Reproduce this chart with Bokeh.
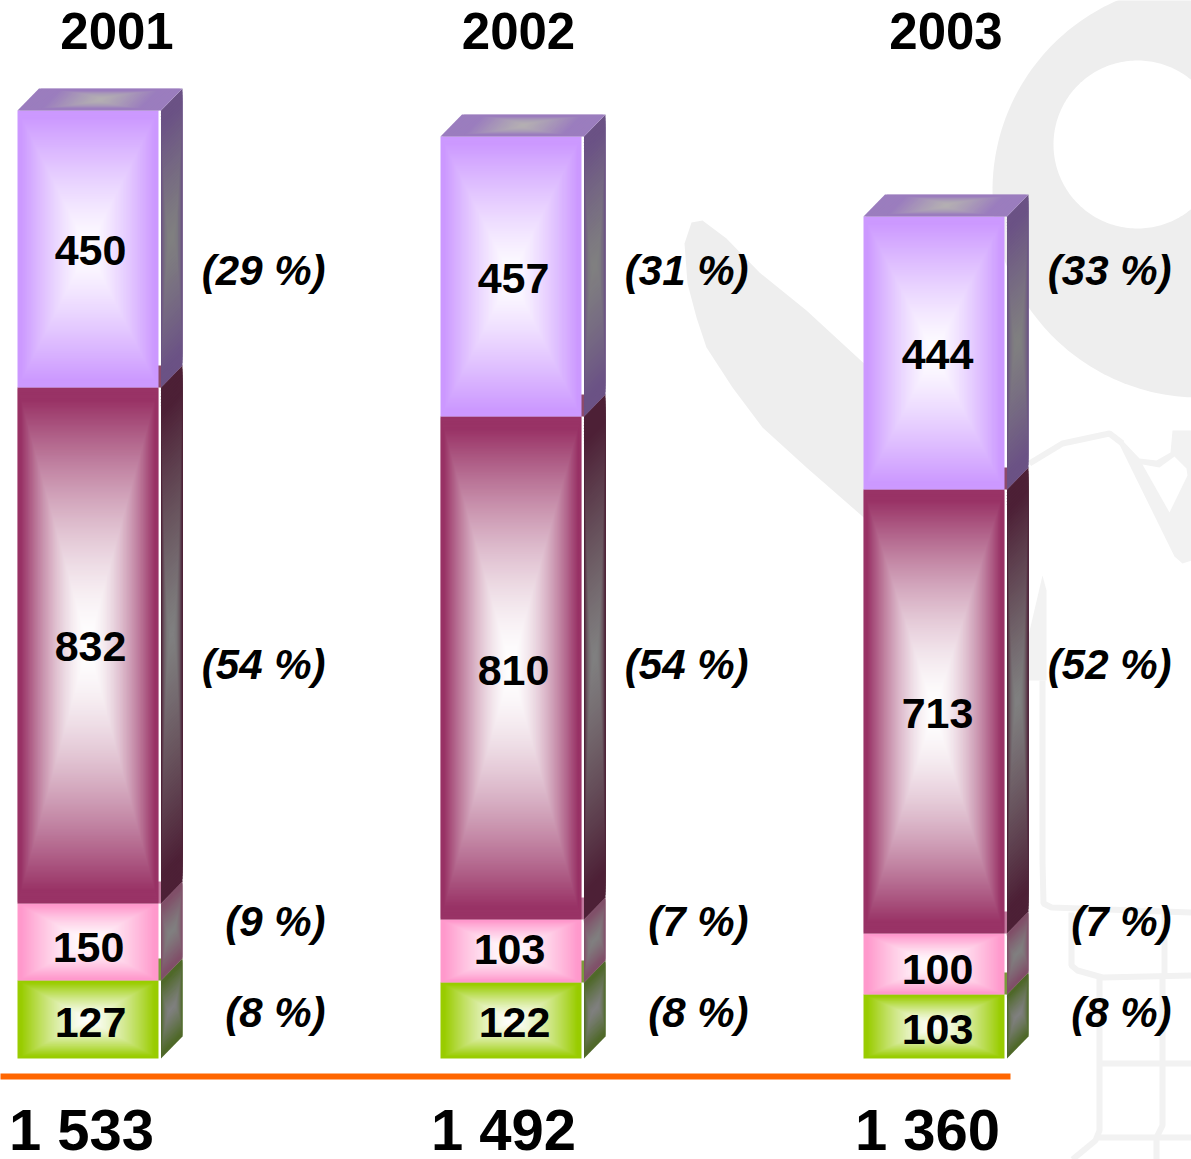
import numpy as np
from bokeh.plotting import figure
from bokeh.models import Range1d
from bokeh.core.properties import value
from bokeh.embed import file_html
from bokeh.resources import INLINE

# ---- data (stack order: bottom to top) ----
years = ["2001", "2002", "2003"]
totals = ["1 533", "1 492", "1 360"]
labels_2001 = ["127", "150", "832", "450"]
labels_2002 = ["122", "103", "810", "457"]
labels_2003 = ["103", "100", "713", "444"]
# bar lengths as they are drawn in the picture
drawn_2001 = [126.1, 124.5, 834.3, 447.9]
drawn_2002 = [122.9, 101.9, 813.3, 452.7]
drawn_2003 = [103.5, 98.6, 717.9, 441.4]
pct_2001 = ["(8 %)", "(9 %)", "(54 %)", "(29 %)"]
pct_2002 = ["(8 %)", "(7 %)", "(54 %)", "(31 %)"]
pct_2003 = ["(8 %)", "(7 %)", "(52 %)", "(33 %)"]

front_colors = ["#99CC00", "#FF99CC", "#993366", "#CC99FF"]
front_gamma = [1.4, 1.4, 1.6, 1.25]
side_colors = ["#50692A", "#805069", "#4D2036", "#6B5285"]
strip_colors = ["#7A9A3A", "#C07A9E", "#8C4A6A", "#9B7DBE"]

# ---- layout ----
W, H = 1191, 1159
BASE = 1058
S = 0.6185  # px per unit
bar_x = [18, 441, 864]
FRONT_W, GAP, SIDE_W, DEPTH = 141, 2.5, 21.5, 22
label_x = [[91, 89, 91, 91], [515, 510, 514, 514], [938, 938, 938, 938]]
label_mid = [[1022, 947, 646, 250], [1022, 949, 670, 278], [1029, 969, 713, 354]]
pct_right = [326, 749, 1172]
pct_mid = [1012, 921, 664, 270]
year_x = [117.5, 519, 946.5]
total_x = [82, 504, 928]

p = figure(width=W, height=H, output_backend="svg", toolbar_location=None,
           x_range=Range1d(1, W + 1), y_range=Range1d((BASE - H) / S, BASE / S),
           min_border=0, outline_line_color=None, background_fill_color="white",
           border_fill_color="white", x_axis_location=None, y_axis_location=None)
p.grid.visible = False
p.extra_y_ranges = {"px": Range1d(H, 0)}

# ---- watermark ----
GREY = "#EEEEEE"
GREY2 = "#F2F2F2"
ang = np.linspace(0, 2 * np.pi, 240)
p.patch(1200 + 207 * np.cos(ang), 190 + 207 * np.sin(ang), y_range_name="px",
        fill_color=GREY, line_color=None)
p.patch(1138 + 84 * np.cos(ang), 144 + 84 * np.sin(ang), y_range_name="px",
        fill_color="white", line_color=None)
p.patch([703, 727, 760, 807, 870, 870, 807, 763, 733, 707, 697, 688, 685, 692],
        [220, 238, 272, 310, 368, 522, 467, 427, 387, 347, 317, 283, 243, 222],
        y_range_name="px", fill_color=GREY, line_color=None)
p.patch([1115, 1175, 1183, 1192, 1192, 1173, 1171, 1157, 1140, 1123],
        [434, 556, 563, 560, 430, 430, 452, 460, 458, 440],
        y_range_name="px", fill_color=GREY2, line_color=None)
p.patch([1143, 1170, 1188, 1187, 1175, 1160],
        [464, 512, 475, 468, 456, 467],
        y_range_name="px", fill_color="white", line_color=None)
p.patch([1043, 1047, 1047, 1029, 1029], [575, 590, 680, 680, 635],
        y_range_name="px", fill_color=GREY2, line_color=None)
wm_x = [[1030, 1063, 1110, 1123],
        [1043, 1043, 1044, 1052, 1192],
        [1072, 1072, 1078, 1103, 1192],
        [1165, 1165],
        [1100, 1100, 1096, 1073],
        [1163, 1163, 1157, 1157],
        [1100, 1192], [1096, 1192]]
wm_y = [[463, 443, 433, 443],
        [680, 860, 903, 907, 912],
        [912, 965, 970, 977, 975],
        [912, 975],
        [977, 1130, 1140, 1159],
        [975, 1125, 1137, 1159],
        [1063, 1063], [1137, 1137]]
p.multi_line(wm_x, wm_y, y_range_name="px", line_color=GREY2, line_width=6)


def mix(c_edge, c_mid, t):
    return "#%02x%02x%02x" % tuple(
        int(round(m + (e - m) * t)) for e, m in zip(c_edge, c_mid))


def rgb(h):
    return tuple(int(h[i:i + 2], 16) for i in (1, 3, 5))


for bi, (drawn, labels) in enumerate(zip([drawn_2001, drawn_2002, drawn_2003],
                                         [labels_2001, labels_2002, labels_2003])):
    x0 = bar_x[bi]
    x1 = x0 + FRONT_W
    sx0 = x1 + GAP
    sx1 = sx0 + SIDE_W
    dv = DEPTH / S
    tops = np.cumsum(drawn)
    bots = tops - np.array(drawn)
    # thin faces of the lower blocks, seen through the white gap
    for si in range(3):
        p.patch([x0, x1 + GAP, sx1, x0 + 23], [tops[si], tops[si], tops[si] + dv, tops[si] + dv],
                fill_color=strip_colors[si], line_color=None)
    for si in range(4):
        yb, yt = bots[si], tops[si]
        e = rgb(front_colors[si])
        g = front_gamma[si]
        cx, cy = (x0 + x1) / 2, (yb + yt) / 2
        hw, hh = (x1 - x0) / 2, (yt - yb) / 2
        # front, nested rectangles
        n = max(70, int(hh * S / 1.2))
        fr = np.arange(n) / n
        p.quad(left=cx - hw * (1 - fr), right=cx + hw * (1 - fr),
               bottom=cy - hh * (1 - fr), top=cy + hh * (1 - fr),
               fill_color=[mix(e, (255, 255, 255), min((1 - f) / 0.95, 1.0) ** g) for f in fr],
               line_color=None)
        # side, nested parallelograms
        n2 = max(30, int(hh * S / 3))
        e2 = rgb(side_colors[si])
        scx, shw = (sx0 + sx1) / 2, (sx1 - sx0) / 2
        xs, ys, cols = [], [], []
        for f in np.arange(n2) / n2:
            k = 1 - f
            ku = k ** 0.4
            us = np.array([-1, 1, 1, -1]) * ku
            vs = np.array([-1, -1, 1, 1]) * k
            xs.append(list(scx + us * shw))
            ys.append(list(cy + dv / 2 + vs * hh + us * dv / 2))
            cols.append(mix(e2, (128, 128, 128), min(k / 0.9, 1) ** 1.2))
        p.patches(xs, ys, fill_color=cols, line_color=None)
    # top of the whole stack
    ytop = tops[3]
    tcx = (x0 + sx1) / 2
    thw = (x1 + GAP - x0) / 2
    xs, ys, cols = [], [], []
    for f in np.arange(30) / 30:
        k = 1 - f
        us = np.array([-1, 1, 1, -1]) * k
        vs = np.array([-1, -1, 1, 1]) * k ** 0.6
        xs.append(list(tcx + us * thw + vs * SIDE_W / 2))
        ys.append(list(ytop + dv / 2 + vs * dv / 2))
        cols.append(mix((155, 125, 190), (180, 176, 178), min(k / 0.7, 1) ** 1.2))
    p.patches(xs, ys, fill_color=cols, line_color=None)
    # value labels
    p.text(x=label_x[bi], y=label_mid[bi], text=labels, y_range_name="px",
           text_font=value("Liberation Sans"), text_font_style="bold",
           text_font_size="43px", text_align="center", text_baseline="middle",
           text_color="black")

# percentages
for bi, pct in enumerate([pct_2001, pct_2002, pct_2003]):
    p.text(x=[pct_right[bi]] * 4, y=pct_mid, text=pct, y_range_name="px",
           text_font=value("Liberation Sans"), text_font_style="bold italic",
           text_font_size="42px", text_align="right", text_baseline="middle",
           text_color="black")

# titles, rule and totals
p.text(x=year_x, y=[30] * 3, text=years, y_range_name="px",
       text_font=value("Liberation Sans"), text_font_style="bold",
       text_font_size="51px", text_align="center", text_baseline="middle",
       text_color="black")
p.line([-5, 1011], [1076, 1076], y_range_name="px", line_color="#FF6600", line_width=6)
p.text(x=total_x, y=[1129] * 3, text=totals, y_range_name="px",
       text_font=value("Liberation Sans"), text_font_style="bold",
       text_font_size="58px", text_align="center", text_baseline="middle",
       text_color="black")

html = file_html(p, INLINE)
html = html.replace("<head>", "<head><style>html,body{margin:0;padding:0;overflow:hidden}</style>", 1)
open("out.html", "w").write(html)
